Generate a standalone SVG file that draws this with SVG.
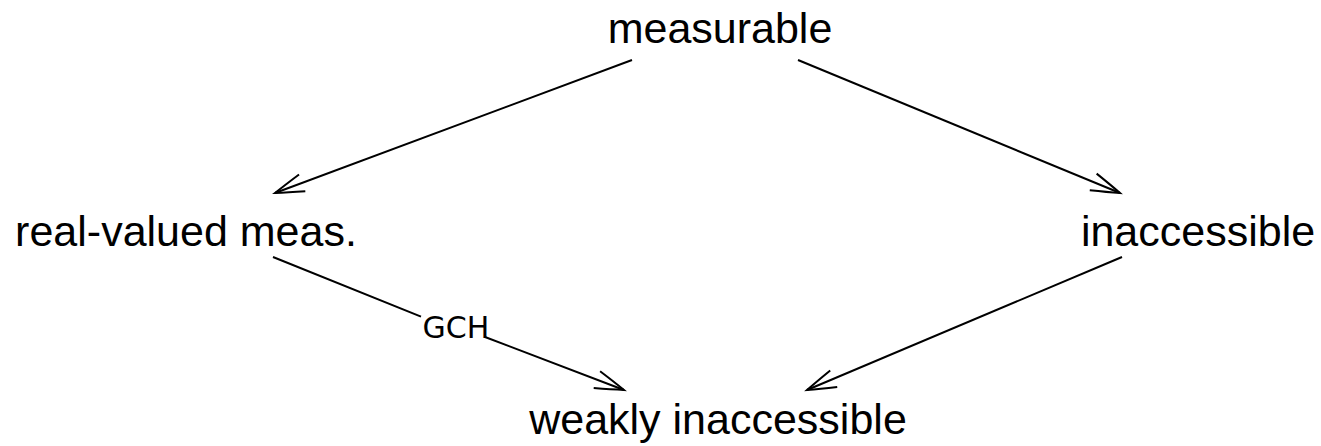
<svg xmlns="http://www.w3.org/2000/svg" width="1321" height="446" viewBox="0 0 1321 446">
<style>
.n{font-family:"Liberation Sans",Arial,sans-serif;font-size:43px;fill:#000;text-anchor:middle}
.l{font-family:"DejaVu Sans",sans-serif;font-size:30px;fill:#000;text-anchor:middle}
.e{fill:none;stroke:#000;stroke-width:2}
</style>
<defs>
<marker id="ah" markerUnits="userSpaceOnUse" markerWidth="40" markerHeight="30" viewBox="-32 -15 36 30" refX="0" refY="0" orient="auto" overflow="visible">
<path d="M-29,-9 Q-12,-4 0,0 Q-12,4 -29,9" fill="none" stroke="#000" stroke-width="2"/>
</marker>
</defs>
<rect width="1321" height="446" fill="#fff"/>
<g id="connectors">
<path class="e" d="M632,60 L275,193" marker-end="url(#ah)"/>
<path class="e" d="M798,60 L1120,193" marker-end="url(#ah)"/>
<path class="e" d="M273,257 L421,316.6 M485,337 L624,390" marker-end="url(#ah)"/>
<path class="e" d="M1122,257 L807,390" marker-end="url(#ah)"/>
<text class="l" x="456" y="338">GCH</text>
</g>
<g id="measurable"><text class="n" x="720" y="43">measurable</text></g>
<g id="real-valued"><text class="n" x="186" y="246">real-valued meas.</text></g>
<g id="inaccessible"><text class="n" x="1198" y="246">inaccessible</text></g>
<g id="weakly-inaccessible"><text class="n" x="718" y="434">weakly inaccessible</text></g>
</svg>
